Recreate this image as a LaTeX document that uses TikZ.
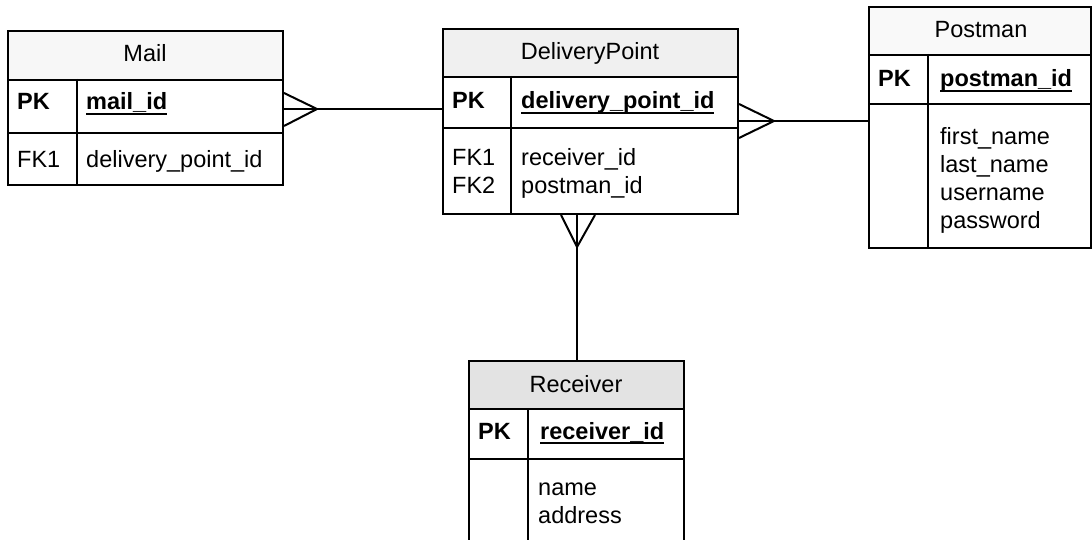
\documentclass[tikz,border=0pt]{standalone}
\usepackage{fontspec}
\setmainfont{Liberation Sans}
\newsavebox\pkbox
% bold, underlined primary-key field name
\newcommand\pkfield[1]{\sbox\pkbox{\bfseries #1}\rlap{\rule[-5pt]{\wd\pkbox}{2pt}}\usebox\pkbox}
\begin{document}
\begin{tikzpicture}[x=1pt,y=-1pt,
  font=\fontsize{23.5}{28}\selectfont,
  tbl/.style={draw, line width=2pt, inner sep=0pt, anchor=north west},
  txt/.style={inner sep=0pt, anchor=base west},
  ttl/.style={inner sep=0pt, anchor=base},
  rule/.style={line width=2pt},
  link/.style={line width=2pt, line join=miter}]
\useasboundingbox (0,0) rectangle (1092,540);
\clip (0,0) rectangle (1092,540);

% ---------- Mail ----------
\node[tbl, fill=gray!6, minimum width=275pt, minimum height=49pt] (mail) at (7,30) {};
\node[tbl, minimum width=275pt, minimum height=53pt] (mailpk) at (7,79) {};
\node[tbl, minimum width=275pt, minimum height=52pt] (mailfk) at (7,132) {};
\draw[rule] ([xshift=70pt]mailpk.north west) -- ([xshift=70pt]mailfk.south west);
\node[ttl] (mailt) at (145,62) {Mail};
\node[txt] (mailpkk) at (17,110) {\bfseries PK};
\node[txt] (mailpkv) at (86,110) {\pkfield{mail\_id}};
\node[txt] (mailfkk) at (17,168) {FK1};
\node[txt] (mailfkv) at (86,168) {delivery\_point\_id};

% ---------- DeliveryPoint ----------
\node[tbl, fill=gray!12, minimum width=295pt, minimum height=48pt] (dp) at (442,28) {};
\node[tbl, minimum width=295pt, minimum height=51pt] (dppk) at (442,76) {};
\node[tbl, minimum width=295pt, minimum height=86pt] (dpfk) at (442,127) {};
\draw[rule] ([xshift=69pt]dppk.north west) -- ([xshift=69pt]dpfk.south west);
\node[ttl] (dpt) at (590,60) {DeliveryPoint};
\node[txt] (dppkk) at (452,109) {\bfseries PK};
\node[txt] (dppkv) at (521,109) {\pkfield{delivery\_point\_id}};
\node[txt] (dpfk1) at (452,166) {FK1};
\node[txt] (dpfk2) at (452,194) {FK2};
\node[txt] (dprcv) at (521,166) {receiver\_id};
\node[txt] (dppst) at (521,194) {postman\_id};

% ---------- Postman ----------
\node[tbl, fill=gray!5, minimum width=222pt, minimum height=48pt] (post) at (868,6) {};
\node[tbl, minimum width=222pt, minimum height=49pt] (postpk) at (868,54) {};
\node[tbl, minimum width=222pt, minimum height=144pt] (postfld) at (868,103) {};
\draw[rule] ([xshift=60pt]postpk.north west) -- ([xshift=60pt]postfld.south west);
\node[ttl] (postt) at (981,38) {Postman};
\node[txt] (postpkk) at (878,87) {\bfseries PK};
\node[txt] (postpkv) at (940,87) {\pkfield{postman\_id}};
\node[txt] (postf1) at (940,145) {first\_name};
\node[txt] (postf2) at (940,173) {last\_name};
\node[txt] (postf3) at (940,201) {username};
\node[txt] (postf4) at (940,229) {password};

% ---------- Receiver ----------
\node[tbl, fill=gray!22, minimum width=215pt, minimum height=48pt] (rcv) at (468,360) {};
\node[tbl, minimum width=215pt, minimum height=50pt] (rcvpk) at (468,408) {};
\node[tbl, minimum width=215pt, minimum height=110pt] (rcvfld) at (468,458) {};
\draw[rule] ([xshift=60pt]rcvpk.north west) -- ([xshift=60pt]rcvfld.south west);
\node[ttl] (rcvt) at (576,392) {Receiver};
\node[txt] (rcvpkk) at (478,439) {\bfseries PK};
\node[txt] (rcvpkv) at (540,439) {\pkfield{receiver\_id}};
\node[txt] (rcvf1) at (538,495) {name};
\node[txt] (rcvf2) at (538,523) {address};

% ---------- relationships (crow's foot on the many side) ----------
% Mail >-- DeliveryPoint
\coordinate (m1) at ([yshift=-2.5pt]mailpk.east);
\draw[link] (m1) -- (dppk.west |- m1);
\draw[link] ([yshift=16pt]m1) -- ++(33,16) -- ++(-33,17);

% DeliveryPoint >-- Postman
\coordinate (p1) at ([yshift=-18.5pt]dppk.east);
\draw[link] (p1) -- (postfld.west |- p1);
\draw[link] ([yshift=17pt]p1) -- ++(35,17) -- ++(-35,17);

% DeliveryPoint >-- Receiver
\coordinate (r1) at ([xshift=-13.5pt]dpfk.south);
\draw[link] (r1) -- (rcv.north -| r1);
\draw[link] ([xshift=-16pt]r1) -- ++(16,32) -- ++(18,-32);
\end{tikzpicture}
\end{document}
